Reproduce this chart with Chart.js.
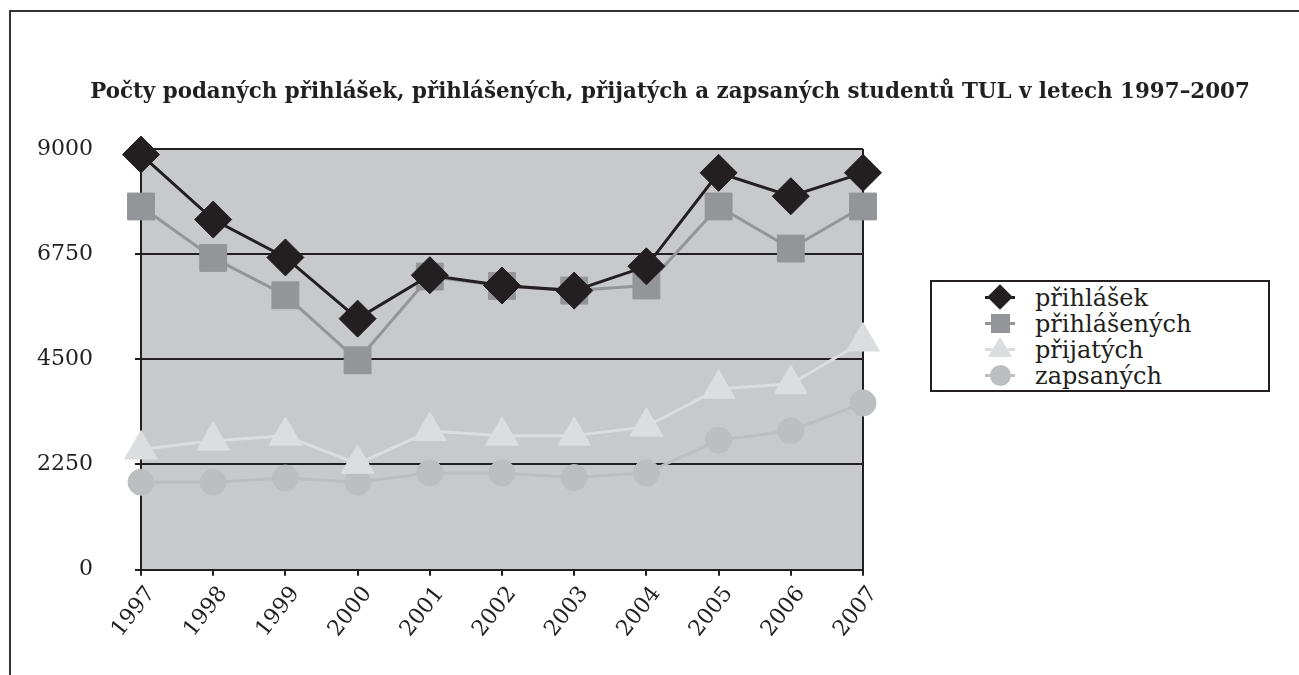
<!DOCTYPE html>
<html>
<head>
<meta charset="utf-8">
<script src="https://cdn.jsdelivr.net/npm/chart.js@4.4.1/dist/chart.umd.min.js"></script>
<style>
  body { margin: 0; background: #fff; overflow: hidden; }
  #wrap { position: relative; width: 1299px; height: 675px; overflow: hidden; }
  #frame { position: absolute; left: 9px; top: 10px; width: 2000px; height: 2000px;
           border-top: 2px solid #333; border-left: 2px solid #333; }
  #chartCanvas { position: absolute; left: 0; top: 0; }
  #title { position: absolute; left: 10px; width: 1320px; top: 78px; text-align: center;
           font: bold 21.4px "DejaVu Serif", serif; line-height: 26px; color: #231f20; }
  #legendDiv { position: absolute; left: 930px; top: 280px; width: 340px; height: 112px;
               box-sizing: border-box; border: 2px solid #231f20; padding: 2px 0; background: #fff; }
  .item { position: relative; height: 26px; line-height: 26px;
          font: 24px "DejaVu Serif", serif; color: #231f20; padding-left: 103px; }
  .mark { position: absolute; left: 68px; top: 13px; }
  .mark .stub { position: absolute; left: -15px; top: -1.5px; width: 30px; height: 3px; }
  .mark .shape { position: absolute; }
  .rectRot { width: 18px; height: 18px; left: -9px; top: -9px; transform: rotate(45deg); }
  .rect { width: 19px; height: 19px; left: -9.5px; top: -9.5px; }
  .triangle { width: 0; height: 0; left: -12px; top: -12px; background: none !important;
              border-left: 12px solid transparent; border-right: 12px solid transparent;
              border-bottom: 20px solid; }
  .circle { width: 21px; height: 21px; left: -10.5px; top: -10.5px; border-radius: 50%; }
</style>
</head>
<body>
<div id="wrap">
  <div id="frame"></div>
  <canvas id="chartCanvas" width="1299" height="675"></canvas>
  <div id="title">Počty podaných přihlášek, přihlášených, přijatých a zapsaných studentů TUL v letech 1997–2007</div>
  <div id="legendDiv"></div>
</div>
<script>
//data
const years = ["1997", "1998", "1999", "2000", "2001", "2002", "2003", "2004", "2005", "2006", "2007"];
const prihlasek = [8880, 7490, 6680, 5370, 6300, 6080, 5970, 6490, 8490, 7990, 8490];
const prihlasenych = [7770, 6670, 5870, 4480, 6270, 6070, 5970, 6080, 7770, 6870, 7770];
const prijatych = [2570, 2760, 2865, 2265, 2965, 2865, 2865, 3060, 3870, 3970, 4880];
const zapsanych = [1870, 1870, 1960, 1870, 2070, 2070, 1970, 2070, 2770, 2970, 3565];
const yTicks = [0, 2250, 4500, 6750, 9000];

const ink = "#231f20";
const tickFont = { family: "DejaVu Serif", size: 22 };

//grey plot background
const plotBg = {
  id: "plotBg",
  beforeDraw(chart) {
    const a = chart.chartArea;
    const ctx = chart.ctx;
    ctx.save();
    ctx.fillStyle = "#c8c9cb";
    ctx.fillRect(a.left, a.top, a.right - a.left, a.bottom - a.top);
    ctx.restore();
  },
};

function series(label, data, color, style, radius) {
  return {
    label: label,
    data: data,
    borderColor: color,
    backgroundColor: color,
    borderWidth: 3,
    pointStyle: style,
    pointRadius: radius,
    pointBackgroundColor: color,
    pointBorderColor: color,
    pointBorderWidth: 1,
    tension: 0,
    clip: false,
  };
}

const canvasDiv = document.getElementById("chartCanvas");
const chart = new Chart(canvasDiv, {
  type: "line",
  data: {
    labels: years,
    datasets: [
      series("přihlášek", prihlasek, ink, "rectRot", 18.5),
      series("přihlášených", prihlasenych, "#939598", "rect", 19),
      series("přijatých", prijatych, "#dcdddf", "triangle", 19),
      series("zapsaných", zapsanych, "#bcbec0", "circle", 13),
    ],
  },
  options: {
    responsive: false,
    animation: false,
    layout: { padding: { left: 0, right: 436, top: 149, bottom: 27 } },
    plugins: {
      legend: { display: false },
      title: { display: false },
      tooltip: { enabled: false },
    },
    scales: {
      x: {
        offset: false,
        ticks: {
          font: tickFont, color: ink, minRotation: 52, maxRotation: 52,
          padding: 6, labelOffset: 10,
        },
        grid: {
          color: (c) => (c.index === years.length - 1 ? ink : "rgba(0,0,0,0)"),
          tickColor: ink,
          lineWidth: 2,
          tickLength: 6,
        },
        border: { color: ink, width: 2 },
      },
      y: {
        min: 0,
        max: 9000,
        afterBuildTicks: (s) => {
          s.ticks = yTicks.map((v) => ({ value: v }));
        },
        afterFit: (s) => {
          s.width = 141;
        },
        ticks: { font: tickFont, color: ink, padding: 42, callback: (v) => String(v) },
        grid: { color: ink, tickColor: ink, lineWidth: 2, tickLength: 6 },
        border: { color: ink, width: 2 },
      },
    },
  },
  plugins: [plotBg],
});

//html legend from the datasets
const legendDiv = document.getElementById("legendDiv");
chart.data.datasets.forEach((ds) => {
  const item = document.createElement("div");
  item.className = "item";
  const shapeStyle = ds.pointStyle === "triangle"
    ? "border-bottom-color:" + ds.backgroundColor
    : "background:" + ds.backgroundColor;
  item.innerHTML =
    '<span class="mark"><span class="stub" style="background:' + ds.borderColor + '"></span>' +
    '<span class="shape ' + ds.pointStyle + '" style="' + shapeStyle + '"></span></span>' + ds.label;
  legendDiv.appendChild(item);
});
</script>
</body>
</html>
